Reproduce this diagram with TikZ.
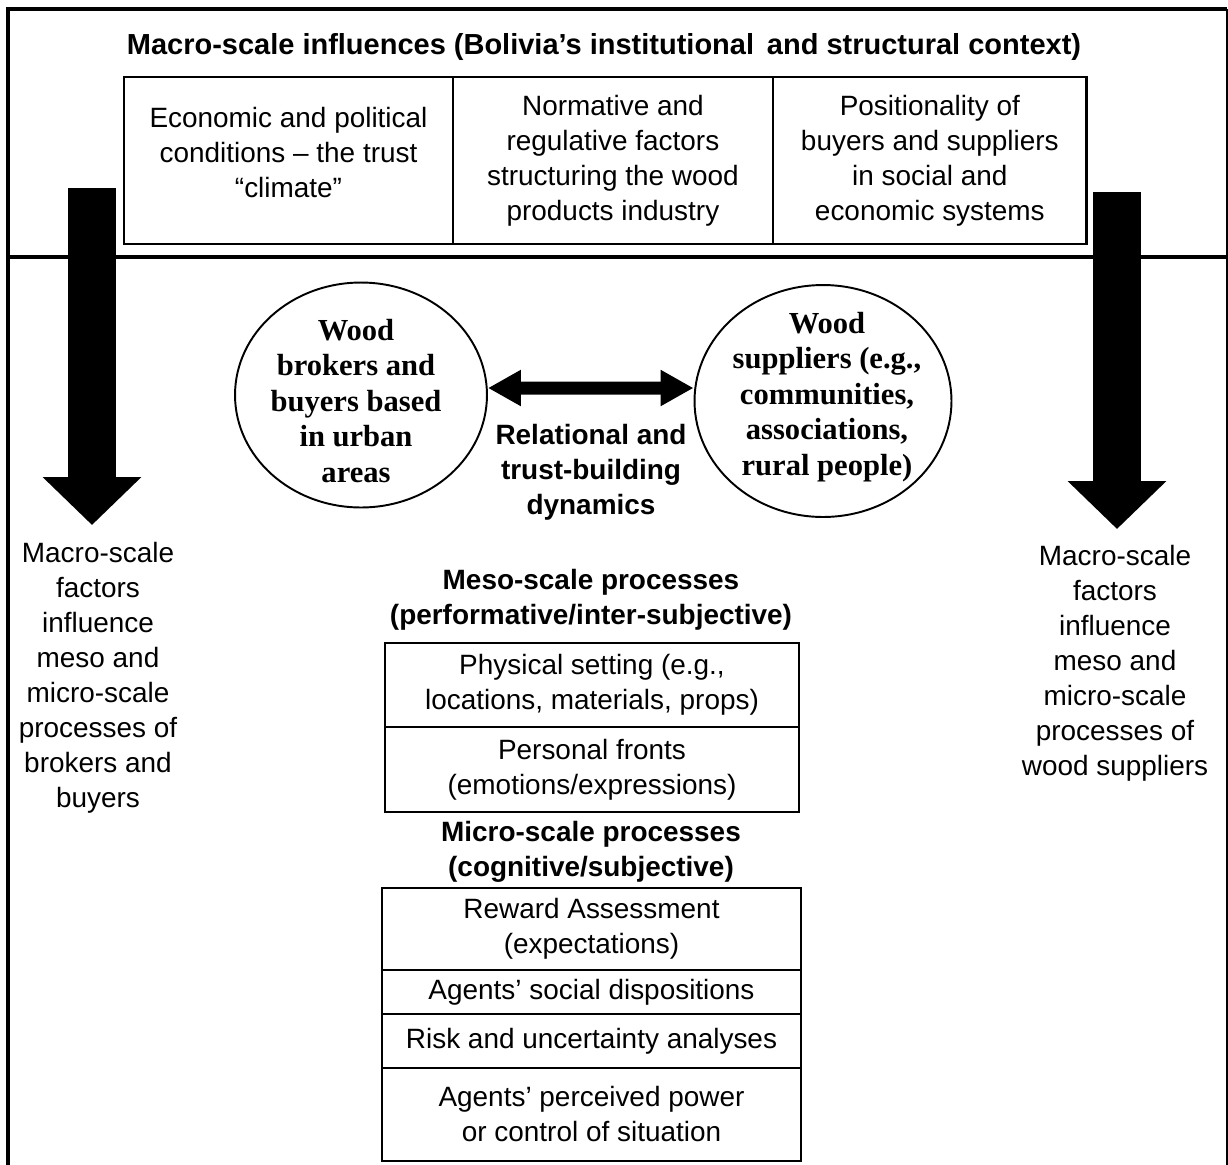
\documentclass[tikz,border=0pt]{standalone}
\usepackage{fontspec}
\setmainfont{Liberation Sans}
\newfontfamily\woodfont{Liberation Serif}
\usetikzlibrary{shapes.geometric,arrows.meta,positioning}

\begin{document}
\begin{tikzpicture}[x=0.02cm, y=-0.02cm,
    txt/.style={align=center, font=\fontsize{15.9}{19.9}\selectfont},
    head/.style={align=center, font=\fontsize{15.9}{19.9}\selectfont\bfseries},
    factor/.style={rectangle, draw, line width=1.6pt, outer sep=0pt, minimum height=3.34cm, txt},
    stage/.style={rectangle, draw, line width=1.6pt, outer sep=0pt, inner ysep=2pt, txt},
    party/.style={ellipse, draw, line width=1.1pt},
    partytext/.style={align=center, font=\fontsize{17.4}{20.2}\selectfont\woodfont\bfseries},
    bigarrow/.style={line width=0.96cm, -{Triangle[width=1.92cm, length=0.96cm]}},
    linkarrow/.style={line width=0.26cm, {Triangle[width=0.68cm, length=0.66cm]}-{Triangle[width=0.68cm, length=0.66cm]}}
]
\useasboundingbox (0,0) rectangle (1228,1164);

% Frame
\draw[line width=2.3pt] (8,1170) -- (8,9) -- (1227,9);
\draw[line width=1.2pt] (1227,9) -- (1227,1170);
\draw[line width=2.8pt] (8,257) -- (1227,257);

% Macro-scale context
\node (macro) [head, font=\fontsize{16.5}{19.9}\selectfont\bfseries] at (604,47) {Macro-scale influences (Bolivia’s institutional\, and structural context)};
\node (econ) [factor, minimum width=6.58cm, text depth=0.32cm] at (288.5,160.5) {Economic and political\\conditions – the trust\\“climate”};
\node (norm) [factor, minimum width=6.4cm, right=0pt of econ] {Normative and\\regulative factors\\structuring the wood\\products industry};
\node (posit) [factor, minimum width=6.28cm, right=0pt of norm] {Positionality of\\buyers and suppliers\\in social and\\economic systems};

% Influence arrows
\coordinate (lsrc) at (92,188);
\coordinate (rsrc) at (1117,192);
\node (lnote) [txt, anchor=north] at (98,536) {Macro-scale\\factors\\influence\\meso and\\micro-scale\\processes of\\brokers and\\buyers};
\node (rnote) [txt, anchor=north] at (1115,539) {Macro-scale\\factors\\influence\\meso and\\micro-scale\\processes of\\wood suppliers};
\draw[bigarrow, shorten >=0.22cm] (lsrc) -- (lsrc |- lnote.north);
\draw[bigarrow, shorten >=0.2cm] (rsrc) -- (rsrc |- rnote.north);

% Buyers and suppliers
\node (buyers) [party, minimum width=5.04cm, minimum height=4.5cm] at (361,395) {};
\node (buyerstext) [partytext] at (356,401) {Wood\\brokers and\\buyers based\\in urban\\areas};
\node (suppliers) [party, minimum width=5.14cm, minimum height=4.64cm] at (823,401) {};
\node (supplierstext) [partytext] at (827,397) {Wood\\suppliers (e.g.,\\communities,\\associations,\\rural people)};
\draw[linkarrow] ([yshift=0.14cm]buyers.east) -- ([yshift=0.26cm]suppliers.west);
\node (relational) [head] at (591,472) {Relational and\\trust-building\\dynamics};

% Meso-scale
\node (mesohead) [head] at (591,600) {Meso-scale processes\\(performative/inter-subjective)};
\node (setting) [stage, minimum width=8.28cm, minimum height=1.68cm] at (592,685) {Physical setting (e.g.,\\locations, materials, props)};
\node (fronts) [stage, minimum width=8.28cm, minimum height=1.7cm, below=0pt of setting] {Personal fronts\\(emotions/expressions)};

% Micro-scale
\node (microhead) [head] at (591,852) {Micro-scale processes\\(cognitive/subjective)};
\node (reward) [stage, minimum width=8.38cm, minimum height=1.64cm] at (591.5,929) {Reward Assessment\\(expectations)};
\node (dispos) [stage, minimum width=8.38cm, minimum height=0.88cm, below=0pt of reward] {Agents’ social dispositions};
\node (risk) [stage, minimum width=8.38cm, minimum height=1.08cm, below=0pt of dispos] {Risk and uncertainty analyses};
\node (power) [stage, minimum width=8.38cm, minimum height=1.86cm, below=0pt of risk] {Agents’ perceived power\\or control of situation};

\end{tikzpicture}
\end{document}
